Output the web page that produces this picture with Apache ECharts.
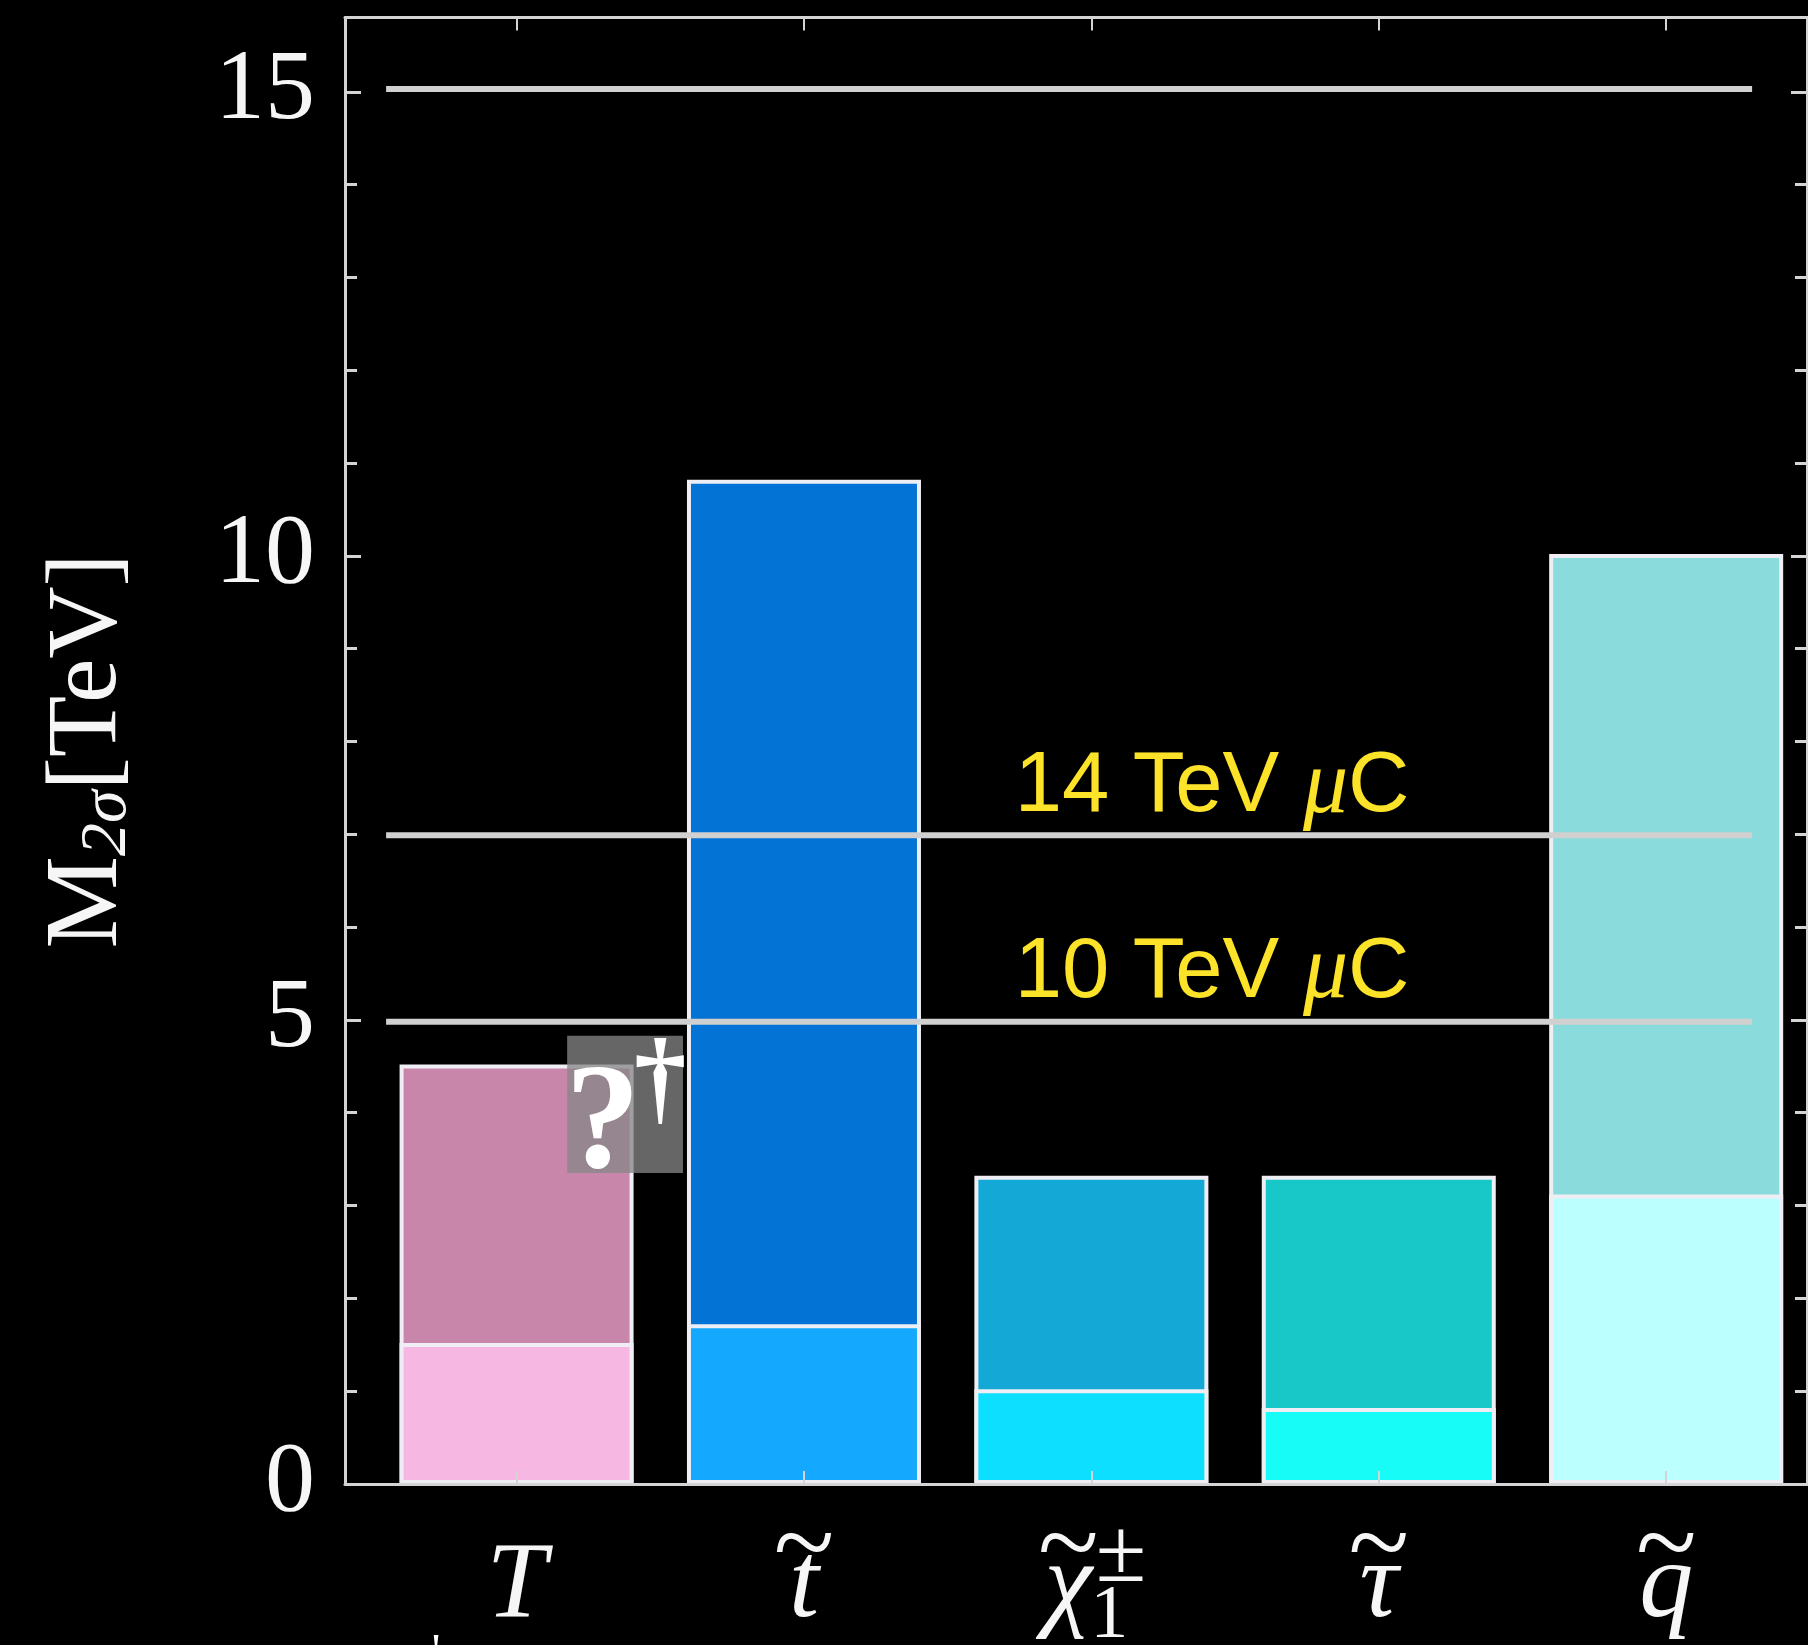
<!DOCTYPE html>
<html><head><meta charset="utf-8">
<style>html,body{margin:0;padding:0;background:#000}#c{width:1808px;height:1645px}</style>
<script src="https://cdn.jsdelivr.net/npm/echarts@6/dist/echarts.min.js"></script>
</head><body><div id="c"></div>
<script>
const positions = [0, 1, 2, 3, 4];
const lowerValues = [1.52, 1.72, 1.02, 0.82, 3.12];
const upperValues = [4.52, 10.82, 3.32, 3.32, 10.02];
const lowerColors = ['#f6b8e2', '#14a8ff', '#0cdfff', '#18fcf8', '#bcffff'];
const upperColors = ['#c886aa', '#0373d6', '#14a8d6', '#18c8c8', '#8adcdc'];
const categoryLabels = [
  '{blank| }\n{it|T}',
  '{til|~}\n{it|t}',
  '{til|~}{pad| }\n{chi|χ}{pad| }',
  '{til|~}\n{it|τ}',
  '{til|~}\n{it|q}'
];
const yTickLabels = [0, 5, 10, 15];
const referenceLevels = [15.03, 6.99, 4.98];
const lineStartEnd = [-0.454, 4.299];
const xRange = [-0.597, 4.49];
const yRange = [0, 15.8];
const boxX = [0.176, 0.579];
const boxY = [4.83, 3.35];
const annotations = [
  {x: 2.42, y: 7.5, text: '{y|14 TeV }{m|μ}{y|C}'},
  {x: 2.42, y: 5.5, text: '{y|10 TeV }{m|μ}{y|C}'},
  {x: 0.3, y: 3.83, text: '{q|?}'},
  {x: 0.5, y: 4.3, text: '{d|†}'},
  {x: -0.28, y: -1.9, text: '{s|†}'},
  {x: 2.103, y: -0.78, text: '{pm|±}'},
  {x: 2.062, y: -1.43, text: '{one|1}'}
];
const serif = '"Liberation Serif","DejaVu Serif",serif';
const sans = '"Liberation Sans",Arial,sans-serif';
const white = '#f6f6f6', axisGrey = '#d4d4d4';

const chart = echarts.init(document.getElementById('c'), null, {renderer: 'canvas'});
const commonX = {type: 'value', min: xRange[0], max: xRange[1], splitLine: {show: false}, z: 5,
  axisLine: {show: true, onZero: false, lineStyle: {color: axisGrey, width: 3}},
  axisTick: {show: true, inside: true, length: 13, customValues: positions, lineStyle: {color: axisGrey, width: 2}}};
const commonY = {type: 'value', min: yRange[0], max: yRange[1], interval: 5, splitLine: {show: false}, z: 5,
  axisLine: {show: true, onZero: false, lineStyle: {color: axisGrey, width: 3}},
  axisTick: {show: true, inside: true, length: 16, customValues: yTickLabels, lineStyle: {color: axisGrey, width: 3}},
  minorTick: {show: true, splitNumber: 5, length: 12, lineStyle: {color: axisGrey, width: 3}}};
const barStyle = {borderColor: '#eeeef4', borderWidth: 4};
const tilde = {fontSize: 112, lineHeight: 10, fontFamily: serif, color: white, width: 60, align: 'center'};

chart.setOption({
  animation: false,
  backgroundColor: '#000',
  grid: {left: 345, top: 17.5, right: 1, bottom: 161, outerBoundsMode: 'none'},
  xAxis: [
    Object.assign({}, commonX, {position: 'bottom', axisLabel: {
      show: true, customValues: positions, margin: 62, interval: 0, color: white, hideOverlap: false,
      formatter: v => categoryLabels[positions.indexOf(v)],
      rich: {
        blank: {fontSize: 10, lineHeight: 10, fontFamily: serif},
        til: tilde,
        pad: {fontSize: 10, lineHeight: 10, fontFamily: serif, width: 46},
        it: {fontSize: 108, lineHeight: 64, fontFamily: serif, fontStyle: 'italic', color: white},
        chi: {fontSize: 108, lineHeight: 64, fontFamily: serif, fontStyle: 'italic', color: white, width: 60, align: 'center'}
      }
    }}),
    Object.assign({}, commonX, {position: 'top', axisLabel: {show: false}})
  ],
  yAxis: [
    Object.assign({}, commonY, {position: 'left',
      name: '{m|M}{s|2σ}{t|[TeV]}', nameLocation: 'middle', nameRotate: 90, nameGap: 204,
      nameTextStyle: {color: white, rich: {
        m: {fontSize: 104, fontFamily: serif, color: white},
        s: {fontSize: 66, fontFamily: serif, fontStyle: 'italic', color: white, verticalAlign: 'bottom'},
        t: {fontSize: 100, fontFamily: serif, color: white}
      }},
      axisLabel: {show: true, customValues: yTickLabels, margin: 30, fontSize: 100, fontFamily: serif, color: white}}),
    Object.assign({}, commonY, {position: 'right', axisLabel: {show: false}})
  ],
  series: [
    {type: 'bar', xAxisIndex: 0, yAxisIndex: 0, barWidth: 234, barGap: '-100%', z: 2,
     data: positions.map((p, i) => ({value: [p, upperValues[i]], itemStyle: Object.assign({color: upperColors[i]}, barStyle)}))},
    {type: 'bar', xAxisIndex: 0, yAxisIndex: 0, barWidth: 234, barGap: '-100%', z: 3,
     data: positions.map((p, i) => ({value: [p, lowerValues[i]], itemStyle: Object.assign({color: lowerColors[i]}, barStyle)}))}
  ].concat(referenceLevels.map(level => ({
    type: 'line', xAxisIndex: 0, yAxisIndex: 0, z: 4, symbol: 'none', silent: true, clip: false,
    lineStyle: {color: '#d0d0d0', width: 6, cap: 'butt'},
    data: [[lineStartEnd[0], level], [lineStartEnd[1], level]]
  }))).concat([
    {type: 'custom', xAxisIndex: 0, yAxisIndex: 0, z: 6, silent: true, clip: false,
     encode: {x: [0, 1], y: [2, 3]},
     data: [[boxX[0], boxX[1], boxY[0], boxY[1]]],
     renderItem: (params, api) => {
       const a = api.coord([api.value(0), api.value(2)]);
       const b = api.coord([api.value(1), api.value(3)]);
       return {type: 'rect', shape: {x: a[0], y: a[1], width: b[0] - a[0], height: b[1] - a[1]},
               style: {fill: 'rgba(134,134,134,0.76)'}};
     }},
    {type: 'scatter', xAxisIndex: 0, yAxisIndex: 0, z: 7, silent: true, clip: false,
     symbolSize: 1, itemStyle: {color: 'transparent', opacity: 1},
     data: annotations.map(a => [a.x, a.y]),
     label: {show: true, position: 'inside', color: white,
       formatter: p => annotations[p.dataIndex].text,
       rich: {
         y: {fontSize: 85, fontFamily: sans, color: '#fde22a'},
         m: {fontSize: 90, fontFamily: serif, fontStyle: 'italic', color: '#fde22a'},
         q: {fontSize: 150, fontFamily: serif, fontWeight: 'bold', color: '#ffffff'},
         d: {fontSize: 105, fontFamily: serif, fontWeight: 'bold', color: '#ffffff'},
         s: {fontSize: 60, fontFamily: serif, color: '#ffffff'},
         pm: {fontSize: 92, fontFamily: serif, color: white},
         one: {fontSize: 76, fontFamily: serif, color: white}
       }}}
  ])
});
</script></body></html>
